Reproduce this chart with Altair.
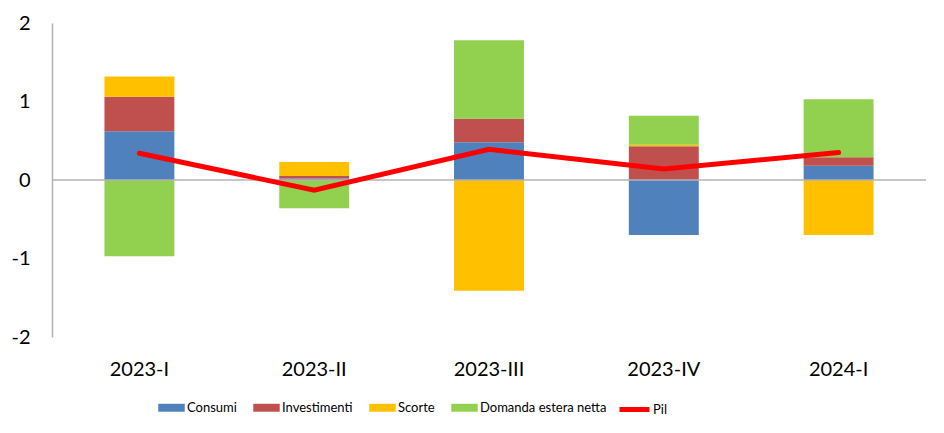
import altair as alt
import pandas as pd

quarters = ["2023-I", "2023-II", "2023-III", "2023-IV", "2024-I"]
series = ["Consumi", "Investimenti", "Scorte", "Domanda estera netta"]
consumi = [0.62, 0.02, 0.48, -0.70, 0.18]
investimenti = [0.44, 0.03, 0.30, 0.43, 0.11]
scorte = [0.26, 0.18, -1.41, 0.02, -0.70]
domanda = [-0.97, -0.36, 1.00, 0.37, 0.74]
pil = [0.34, -0.13, 0.39, 0.14, 0.35]
colors = ["#4F81BD", "#C0504D", "#FFC000", "#92D050"]

rows = []
for i, q in enumerate(quarters):
    for j, (s, vals) in enumerate(zip(series, [consumi, investimenti, scorte, domanda])):
        rows.append({"q": q, "serie": s, "ord": j, "v": vals[i]})
bars_df = pd.DataFrame(rows)
pil_df = pd.DataFrame({"q": quarters, "v": pil, "serie": ["Pil"] * len(quarters)})

FONT = "Lato"

xscale = alt.Scale(paddingInner=0.6, paddingOuter=0.3)
yscale = alt.Scale(domain=[-2, 2], nice=False, zero=False)
xaxis = alt.Axis(domain=False, ticks=False, grid=False, labelAngle=0, labelFontSize=20,
                 labelColor="#000000", labelFont=FONT, labelPadding=22)
yaxis = alt.Axis(values=[-2, -1, 0, 1, 2], grid=False, ticks=False, domain=True,
                 domainColor="#B3B3B3", domainWidth=1.5, labelFontSize=20,
                 labelColor="#000000", labelFont=FONT, labelPadding=22,
                 labelExpr="toString(datum.value)")

bars = alt.Chart(bars_df).mark_bar().encode(
    x=alt.X("q:N", sort=quarters, title=None, scale=xscale, axis=xaxis),
    y=alt.Y("v:Q", scale=yscale, title=None, stack="zero", axis=yaxis),
    color=alt.Color("serie:N", sort=series,
                    scale=alt.Scale(domain=series, range=colors),
                    legend=alt.Legend(title=None, orient="none", direction="horizontal",
                                      legendX=106, legendY=371,
                                      symbolType="M-1,-0.3L1,-0.3L1,0.3L-1,0.3Z",
                                      symbolSize=700, symbolStrokeWidth=0,
                                      labelFontSize=13, labelFont=FONT, labelColor="#000000",
                                      labelOffset=2, columnPadding=16)),
    order=alt.Order("ord:Q"),
)

zero = alt.Chart(pd.DataFrame({"z": [0]})).mark_rule(color="#B3B3B3", strokeWidth=1.5).encode(
    y=alt.Y("z:Q", scale=yscale, title=None)
)

line = alt.Chart(pil_df).mark_line(strokeWidth=5, strokeCap="round", strokeJoin="miter").encode(
    x=alt.X("q:N", sort=quarters, title=None),
    y=alt.Y("v:Q", scale=yscale, title=None),
    stroke=alt.Stroke("serie:N", scale=alt.Scale(domain=["Pil"], range=["#FF0000"]),
                      legend=alt.Legend(title=None, orient="none", legendX=565, legendY=369,
                                        symbolType="stroke", symbolSize=900,
                                        symbolStrokeWidth=5, labelFontSize=13, labelFont=FONT,
                                        labelColor="#000000", labelOffset=1)),
)

chart = alt.layer(bars, zero, line).properties(
    width=874, height=314,
    background="#FFFFFF",
    autosize=alt.AutoSizeParams(type="none"),
    padding={"left": 44, "top": 15, "right": 10, "bottom": 90},
).configure_view(stroke=None).configure_axis(grid=False)

chart.save("out.html", embed_options={"renderer": "svg", "actions": False})
